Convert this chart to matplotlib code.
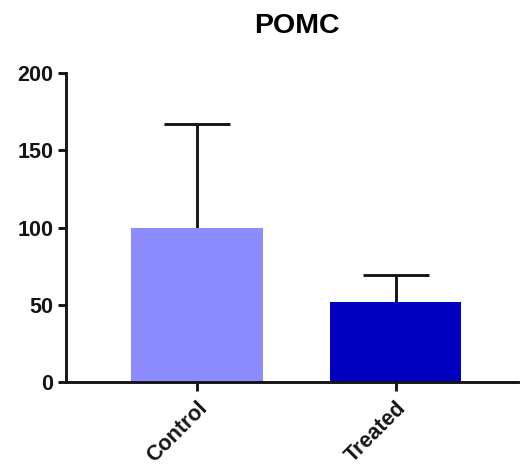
import matplotlib.pyplot as plt
import numpy as np

# POMC expression, mean + SD
groups = ['Control', 'Treated']
means = [100, 52]
errors = [67, 17]
colors = ['#8C8CFF', '#0000C0']

plt.rcParams['font.family'] = ['Liberation Sans', 'DejaVu Sans']
plt.rcParams['font.weight'] = 'bold'

fig = plt.figure(figsize=(5.21, 4.69), dpi=100)
ax = fig.add_axes([0.1267, 0.1855, 0.867, 0.6588])

x = np.arange(len(groups))
ax.bar(x, means, width=0.66, color=colors, zorder=2)
eb = ax.errorbar(x, means, yerr=[np.zeros(len(means)), errors], fmt='none',
                 ecolor='#151515', elinewidth=2.1, capsize=24, capthick=2.1,
                 zorder=1)
# only the upper cap, like Prism
eb[1][0].set_visible(False)

ax.set_xlim(-0.658, 1.613)
ax.set_ylim(0, 200)
ax.set_yticks([0, 50, 100, 150, 200])
ax.set_xticks(x)
ax.set_xticklabels(groups, rotation=45, ha='right', rotation_mode='anchor')

for side in ['top', 'right']:
    ax.spines[side].set_visible(False)
for side in ['left', 'bottom']:
    ax.spines[side].set_linewidth(2.1)
    ax.spines[side].set_color('#151515')

ax.tick_params(axis='y', direction='out', length=6, width=2.1,
               labelsize=15.5, colors='#151515', pad=3)
ax.tick_params(axis='x', direction='out', length=6.5, width=2.1,
               labelsize=15.5, colors='#151515', pad=5)
for lab in ax.get_xticklabels() + ax.get_yticklabels():
    lab.set_fontweight('bold')

ax.set_title('POMC', fontsize=20.5, fontweight='bold', pad=29, x=0.51)

fig.savefig('out.png', dpi=100)
